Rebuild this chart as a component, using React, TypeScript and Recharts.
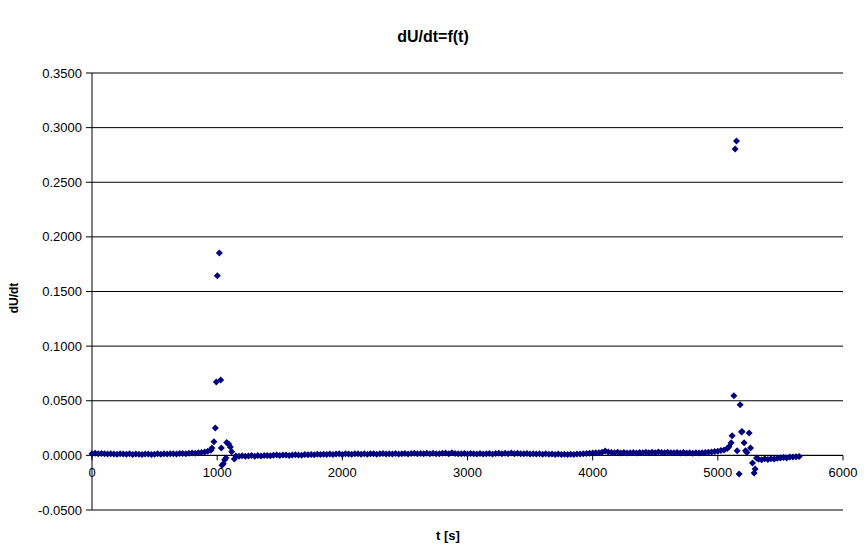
import React from "react";
import {
  ScatterChart,
  Scatter,
  XAxis,
  YAxis,
  CartesianGrid,
  ReferenceLine,
  ReferenceDot,
} from "recharts";

// ---- data ----
const SAMPLE_STEP = 25; // s between regular samples

const baselineA_start = 0;
const baselineA = [
  0.0016, 0.0019, 0.0014, 0.0018, 0.0016, 0.0013, 0.0016, 0.0012, 0.0011, 0.0015,
  0.0012, 0.001, 0.0014, 0.0009, 0.0013, 0.0011, 0.0008, 0.0012, 0.0013, 0.0009,
  0.0011, 0.0014, 0.0011, 0.0015, 0.0012, 0.0016, 0.0015, 0.0013, 0.0018, 0.0017,
  0.0016, 0.002, 0.0021, 0.0019, 0.0024, 0.0026, 0.0031, 0.0038,
];

const spike1: [number, number][] = [
  [950, 0.0047], [958, 0.0067], [974, 0.0125], [985, 0.025], [993, 0.0671],
  [1001, 0.1645], [1017, 0.1853], [1028, 0.069], [1033, 0.0067], [1038, -0.009],
  [1049, -0.0077], [1060, -0.004], [1070, -0.0025], [1076, 0.0118], [1092, 0.0103],
  [1105, 0.0076], [1116, 0.0033], [1137, -0.0034],
];

const baselineB_start = 1150;
const baselineB = [
  -0.0006, -0.0009, -0.0003, -0.0008, -0.0005, -0.0002, -0.0007, -0.0002, -0.0005, 0.0,
  0.0, -0.0003, 0.0002, 0.0003, -0.0001, 0.0003, 0.0004, 0.0, 0.0004, 0.0005,
  0.0004, 0.0001, 0.0007, 0.0005, 0.0009, 0.0005, 0.001, 0.0007, 0.0011, 0.0007,
  0.0012, 0.0008, 0.0013, 0.0014, 0.0009, 0.0015, 0.0012, 0.001, 0.0014, 0.0016,
  0.0011, 0.0015, 0.001, 0.0014, 0.0016, 0.0011, 0.0015, 0.0017, 0.0012, 0.0016,
  0.0013, 0.0017, 0.0012, 0.0016, 0.0018, 0.0013, 0.0017, 0.0019, 0.0014, 0.0018,
  0.0015, 0.0019, 0.0014, 0.002, 0.0016, 0.0015, 0.0019, 0.0021, 0.0016, 0.0025,
  0.0018, 0.0015, 0.0016, 0.0018, 0.0013, 0.0017, 0.0014, 0.0012, 0.0017, 0.0013,
  0.0015, 0.0018, 0.0013, 0.0017, 0.0019, 0.0014, 0.002, 0.0016, 0.0021, 0.0015,
  0.0019, 0.0016, 0.0014, 0.0017, 0.0013, 0.0016, 0.0012, 0.0015, 0.0011, 0.0014,
  0.001, 0.0013, 0.0009, 0.0012, 0.0008, 0.0011, 0.0008, 0.0011, 0.0009, 0.0012,
  0.0013, 0.0016, 0.0017, 0.002, 0.0021, 0.0024, 0.0025, 0.0029, 0.004, 0.003,
  0.0026, 0.0023, 0.0028, 0.0022, 0.0026, 0.0021, 0.0025, 0.0027, 0.0022, 0.0026,
  0.0024, 0.0028, 0.0024, 0.0029, 0.0025, 0.0031, 0.0026, 0.0024, 0.0029, 0.0025,
  0.0023, 0.0027, 0.0022, 0.0026, 0.0021, 0.0025, 0.002, 0.0024, 0.0022, 0.0025,
  0.0026, 0.0029, 0.0031, 0.0035, 0.0038, 0.0044, 0.005, 0.0062,
];

const spike2: [number, number][] = [
  [5090, 0.0082], [5106, 0.0115], [5114, 0.018], [5128, 0.0546], [5138, 0.2805],
  [5149, 0.2878], [5154, 0.0042], [5170, -0.0171], [5178, 0.0463], [5189, 0.0213],
  [5193, 0.0218], [5210, 0.0115], [5221, 0.0042], [5232, 0.0027], [5250, 0.0204],
  [5261, 0.0067], [5277, -0.007], [5290, -0.0162], [5298, -0.0125], [5309, -0.0025],
];

const baselineC_start = 5325;
const baselineC = [
  -0.0035, -0.0039, -0.0032, -0.0037, -0.003, -0.0033, -0.0026, -0.0025, -0.0019, -0.0024,
  -0.0016, -0.0014, -0.0012, -0.0011,
];

const xTicks = [0, 1000, 2000, 3000, 4000, 5000, 6000];
const yTicks = [-0.05, 0, 0.05, 0.1, 0.15, 0.2, 0.25, 0.3, 0.35];

const TITLE = "dU/dt=f(t)";
const X_LABEL = "t [s]";
const Y_LABEL = "dU/dt";

// ---- build table ----
const fromRegular = (start: number, vals: number[]) =>
  vals.map((v, i) => ({ t: start + i * SAMPLE_STEP, v }));
const fromPairs = (pairs: [number, number][]) => pairs.map(([t, v]) => ({ t, v }));

const data = [
  ...fromRegular(baselineA_start, baselineA),
  ...fromPairs(spike1),
  ...fromRegular(baselineB_start, baselineB),
  ...fromPairs(spike2),
  ...fromRegular(baselineC_start, baselineC),
];

const FONT = "'Liberation Sans', Arial, sans-serif";
const NAVY = "#000080";

const Diamond = (props: any) => {
  const { cx, cy } = props;
  if (cx == null || cy == null) return null;
  const r = 3.5;
  return (
    <path
      d={`M${cx},${cy - r}L${cx + r},${cy}L${cx},${cy + r}L${cx - r},${cy}Z`}
      fill={NAVY}
    />
  );
};

export default function App() {
  return (
    <div
      style={{
        position: "absolute",
        left: 0,
        top: 0,
        width: 866,
        height: 548,
        background: "#fff",
        fontFamily: FONT,
      }}
    >
      <ScatterChart
        width={866}
        height={548}
        margin={{ top: 73, right: 23, left: 0, bottom: 0 }}
      >
        <CartesianGrid vertical={false} stroke="#000" strokeWidth={1} />
        <XAxis
          type="number"
          dataKey="t"
          domain={[0, 6000]}
          ticks={xTicks}
          axisLine={false}
          tickLine={false}
          tick={false}
          height={38}
        />
        <YAxis
          type="number"
          dataKey="v"
          domain={[-0.05, 0.35]}
          ticks={yTicks}
          width={92}
          axisLine={{ stroke: "#000" }}
          tickLine={{ stroke: "#000" }}
          tickSize={6}
          tickMargin={4}
          tick={{ fill: "#000", fontSize: 13, fontFamily: FONT }}
          tickFormatter={(v: number) => v.toFixed(4)}
        />
        <ReferenceLine y={0} stroke="#000" strokeWidth={1} />
        {xTicks.map((t) => (
          <ReferenceLine
            key={"tl" + t}
            segment={[
              { x: t, y: 0 },
              { x: t, y: -0.0046 },
            ]}
            stroke="#000"
            strokeWidth={1}
          />
        ))}
        {xTicks.map((t) => (
          <ReferenceDot
            key={"tx" + t}
            x={t}
            y={0}
            r={0}
            stroke="none"
            fill="none"
            label={{
              value: String(t),
              position: "bottom",
              offset: 12,
              fill: "#000",
              fontSize: 13,
              fontFamily: FONT,
            }}
          />
        ))}
        <Scatter
          data={data}
          shape={<Diamond />}
          fill={NAVY}
          isAnimationActive={false}
        />
      </ScatterChart>
      <div
        style={{
          position: "absolute",
          left: 0,
          width: 866,
          top: 27,
          textAlign: "center",
          fontWeight: "bold",
          fontSize: 16,
          lineHeight: "20px",
          color: "#000",
        }}
      >
        {TITLE}
      </div>
      <div
        style={{
          position: "absolute",
          left: 448 - 50,
          width: 100,
          top: 528,
          textAlign: "center",
          fontWeight: "bold",
          fontSize: 13,
          lineHeight: "16px",
          color: "#000",
        }}
      >
        {X_LABEL}
      </div>
      <div
        style={{
          position: "absolute",
          left: 14 - 50,
          top: 298 - 8,
          width: 100,
          height: 16,
          textAlign: "center",
          fontWeight: "bold",
          fontSize: 12,
          lineHeight: "16px",
          color: "#000",
          transform: "rotate(-90deg)",
        }}
      >
        {Y_LABEL}
      </div>
    </div>
  );
}
